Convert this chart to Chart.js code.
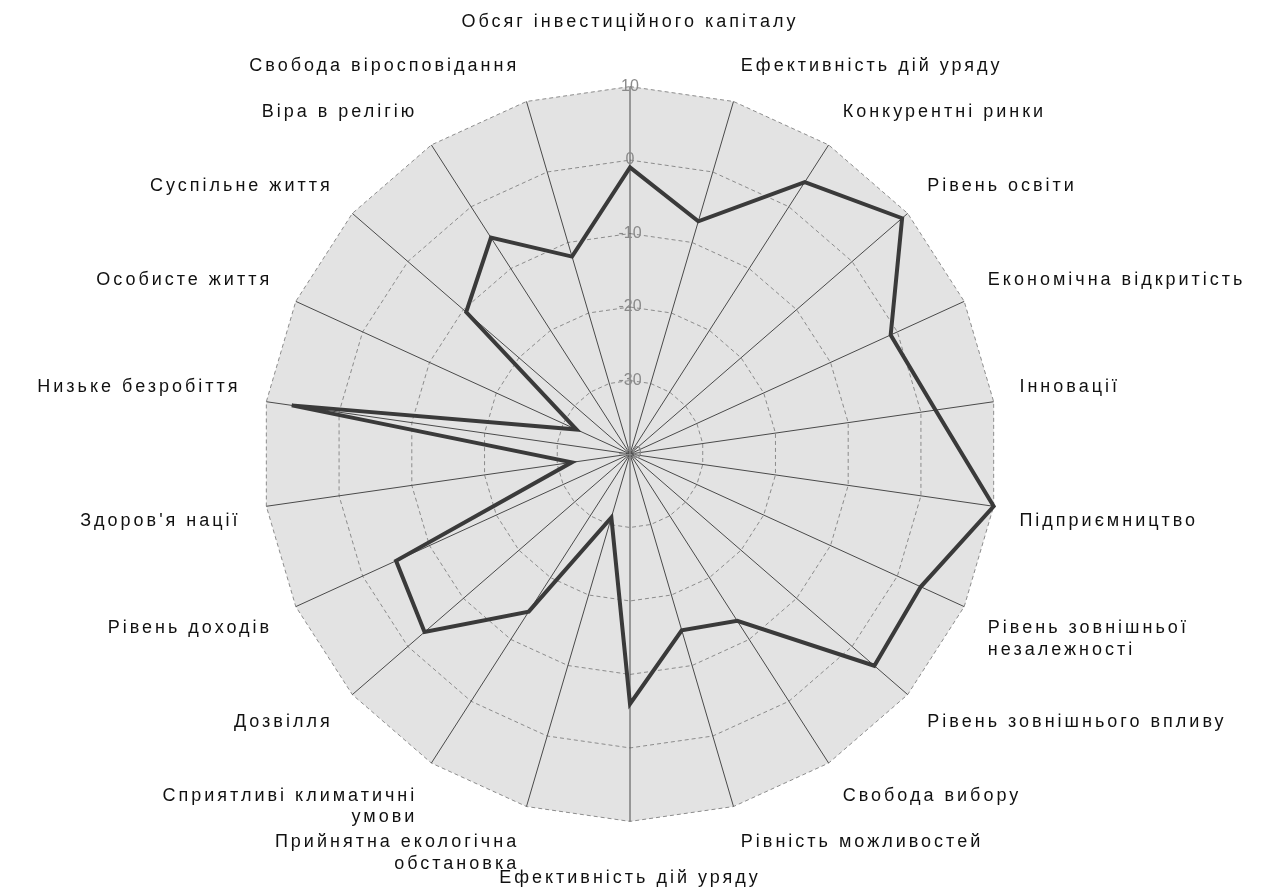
<!DOCTYPE html>
<html>
<head>
<meta charset="utf-8">
<script src="https://cdn.jsdelivr.net/npm/chart.js@4/dist/chart.umd.min.js"></script>
<style>
  html, body { margin: 0; padding: 0; background: #fff; }
  #wrap { width: 1268px; height: 894px; }
</style>
</head>
<body>
<div id="wrap"><canvas id="radar"></canvas></div>
<script>
const categories = [
  'Обсяг інвестиційного капіталу',
  'Ефективність дій уряду',
  'Конкурентні ринки',
  'Рівень освіти',
  'Економічна відкритість',
  'Інновації',
  'Підприємництво',
  ['Рівень зовнішньої', 'незалежності'],
  'Рівень зовнішнього впливу',
  'Свобода вибору',
  'Рівність можливостей',
  'Ефективність дій уряду',
  ['Прийнятна екологічна', 'обстановка'],
  ['Сприятливі климатичні', 'умови'],
  'Дозвілля',
  'Рівень доходів',
  "Здоров'я нації",
  'Низьке безробіття',
  'Особисте життя',
  'Суспільне життя',
  'Віра в релігію',
  'Свобода віросповідання'
];

const scores = [-1, -7, 4, 9, -1, 2, 10, 3.5, 4, -13, -15, -6, -31, -14.5, -3, -5, -32, 6.5, -32, -10.5, -5, -12];

const scaleMin = -40;
const scaleMax = 10;
const scaleStep = 10;

// category labels in the picture are widely spaced, tick numbers are not
const spacing = {
  id: 'spacing',
  beforeLayout(chart) { chart.ctx.letterSpacing = '3px'; },
  beforeDraw(chart) { chart.ctx.letterSpacing = '3px'; },
  beforeDatasetsDraw(chart) { chart.ctx.letterSpacing = '0px'; }
};

const chart = new Chart(document.getElementById('radar'), {
  type: 'radar',
  data: {
    labels: categories,
    datasets: [{
      data: scores,
      borderColor: '#3a3a3a',
      borderWidth: 4,
      borderJoinStyle: 'miter',
      pointRadius: 0,
      fill: false
    }]
  },
  options: {
    responsive: true,
    maintainAspectRatio: false,
    animation: false,
    layout: { padding: { top: 8, bottom: -24, left: 16, right: 0 } },
    plugins: { legend: { display: false }, tooltip: { enabled: false } },
    scales: {
      r: {
        min: scaleMin,
        max: scaleMax,
        backgroundColor: '#e3e3e3',
        ticks: {
          stepSize: scaleStep,
          showLabelBackdrop: false,
          color: '#8a8a8a',
          z: 1,
          font: { family: 'Liberation Sans', size: 16 }
        },
        grid: { color: '#8c8c8c', lineWidth: 1 },
        border: { dash: [4, 3] },
        angleLines: { color: '#4a4a4a', lineWidth: 1 },
        pointLabels: {
          color: '#111',
          padding: ctx => ctx.index === 0 ? 44 : ctx.index === 11 ? 36 : 16,
          font: { family: 'Liberation Sans', size: 18 }
        }
      }
    }
  },
  plugins: [spacing]
});
</script>
</body>
</html>
